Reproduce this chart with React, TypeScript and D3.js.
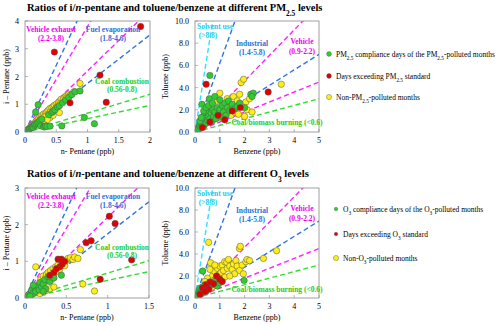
import React from "react";
import * as d3 from "d3";

// ---- data ----
// pentane panels: [n-pentane, i-pentane] (ppb)
const pmPentCompliance = [
  [0.02, 0.03], [0.03, 0.05], [0.04, 0.04], [0.05, 0.08], [0.06, 0.07], [0.07, 0.11], [0.08, 0.13], [0.1, 0.15],
  [0.11, 0.18], [0.12, 0.2], [0.13, 0.17], [0.15, 0.24], [0.16, 0.28], [0.17, 0.72], [0.18, 0.3], [0.2, 0.34],
  [0.21, 0.98], [0.22, 0.37], [0.24, 0.42], [0.25, 0.22], [0.27, 0.46], [0.3, 0.2], [0.31, 0.18], [0.33, 0.22],
  [0.35, 0.2], [0.38, 0.62], [0.4, 0.21], [0.43, 0.7], [0.45, 0.75], [0.48, 0.8], [0.52, 0.9], [0.55, 0.95],
  [0.59, 0.22], [0.6, 1.05], [0.65, 1.15], [0.7, 1.25], [0.75, 1.35], [0.8, 1.45], [0.88, 1.48], [0.95, 0.52], [1.11, 0.3],
];
const pmPentExceed = [[1.85, 3.8], [0.47, 2.88], [1.2, 2.05], [1.3, 1.07], [0.72, 1.05]];
const pmPentNon = [
  [0.04, 0.06], [0.06, 0.1], [0.08, 0.16], [0.1, 0.2], [0.12, 0.24], [0.14, 0.22], [0.15, 0.3], [0.17, 0.36],
  [0.19, 0.4], [0.2, 0.45], [0.22, 0.5], [0.24, 0.55], [0.25, 0.48], [0.27, 0.6], [0.28, 0.52], [0.3, 0.65],
  [0.31, 0.55], [0.33, 0.68], [0.34, 0.6], [0.35, 0.73], [0.37, 0.78], [0.38, 0.66], [0.4, 0.85], [0.41, 0.74],
  [0.43, 0.88], [0.45, 0.92], [0.47, 0.96], [0.48, 0.82], [0.5, 1.0], [0.52, 0.95], [0.54, 1.08], [0.56, 1.12],
  [0.58, 1.18], [0.6, 1.1], [0.62, 1.22], [0.64, 1.26], [0.66, 1.3], [0.68, 1.28], [0.7, 1.36], [0.72, 1.32],
  [0.78, 1.45], [0.88, 1.75], [0.4, 0.52], [0.45, 0.6], [0.55, 0.7], [0.3, 0.4], [0.36, 0.45],
];

// toluene panels: [benzene, toluene] (ppb)
const pmToluCompliance = [
  [0.1, 0.2], [0.12, 0.4], [0.15, 0.3], [0.18, 0.6], [0.2, 0.5], [0.22, 0.8], [0.25, 0.4], [0.28, 2.5], [0.3, 0.9],
  [0.3, 0.6], [0.35, 1.2], [0.38, 0.7], [0.4, 1.0], [0.42, 1.5], [0.45, 0.8], [0.48, 1.3], [0.5, 1.8], [0.52, 1.0],
  [0.55, 1.4], [0.58, 3.0], [0.6, 5.1], [0.6, 1.2], [0.65, 1.7], [0.7, 1.0], [0.72, 2.0], [0.75, 1.4], [0.8, 3.2],
  [0.8, 1.8], [0.85, 1.2], [0.9, 2.2], [0.95, 1.6], [1.0, 2.0], [1.05, 1.4], [1.1, 2.4], [1.15, 1.8], [1.2, 2.6],
  [1.25, 1.5], [1.3, 2.2], [1.35, 2.8], [1.4, 1.9], [1.5, 2.5], [1.6, 2.1], [1.7, 2.3], [1.8, 2.6], [2.0, 2.2],
  [2.25, 3.4], [2.35, 3.5], [2.3, 3.2], [0.2, 1.0], [0.25, 1.3], [0.35, 1.9], [0.45, 2.2], [0.55, 2.4], [0.7, 2.6], [1.0, 2.9],
];
const pmToluExceed = [[0.45, 4.3], [2.95, 3.6], [1.5, 1.9], [0.93, 1.5], [1.83, 2.2], [0.6, 0.9], [0.3, 0.4], [1.2, 1.1]];
const pmToluNon = [
  [0.15, 0.2], [0.25, 0.6], [0.35, 0.5], [0.45, 1.1], [0.55, 0.9], [0.65, 1.3], [0.75, 2.2], [0.85, 1.5], [0.9, 2.8],
  [1.0, 1.3], [1.1, 2.0], [1.2, 1.6], [1.3, 3.0], [1.4, 2.3], [1.45, 1.5], [1.55, 3.2], [1.6, 1.8], [1.7, 2.8],
  [1.75, 1.6], [1.86, 4.45], [1.96, 4.75], [2.0, 1.4], [2.05, 2.7], [2.1, 2.0], [2.2, 3.0], [2.3, 1.8], [3.48, 4.3],
  [1.8, 3.4], [1.0, 3.5], [0.6, 2.0],
];

const o3PentCompliance = [
  [0.01, 0.02], [0.03, 0.04], [0.05, 0.1], [0.07, 0.09], [0.08, 0.2], [0.1, 0.13], [0.12, 0.28], [0.13, 0.18],
  [0.15, 0.32], [0.17, 0.22], [0.18, 0.42], [0.2, 0.3], [0.22, 0.38], [0.24, 0.5], [0.25, 0.25], [0.28, 0.58],
  [0.3, 0.45], [0.32, 0.62], [0.44, 0.62], [0.3, 0.58], [0.22, 0.18], [0.35, 0.55], [0.1, 0.35], [0.06, 0.05],
];
const o3PentExceed = [
  [1.02, 2.23], [1.09, 2.03], [0.74, 1.51], [0.8, 1.56], [1.29, 1.04], [0.91, 0.51], [0.4, 1.06], [0.44, 1.06],
  [0.42, 0.85], [0.45, 0.92], [0.35, 0.7], [0.38, 0.8], [0.3, 0.62], [0.48, 1.0],
];
const o3PentNon = [
  [0.02, 0.03], [0.04, 0.08], [0.05, 0.06], [0.06, 0.12], [0.08, 0.15], [0.09, 0.1], [0.1, 0.2], [0.11, 0.25],
  [0.12, 0.16], [0.13, 0.85], [0.14, 0.3], [0.15, 0.22], [0.16, 0.35], [0.17, 0.28], [0.18, 0.4], [0.19, 0.5],
  [0.2, 0.33], [0.21, 0.45], [0.22, 0.6], [0.23, 0.38], [0.25, 0.55], [0.26, 0.65], [0.27, 0.48], [0.28, 0.7],
  [0.3, 0.6], [0.31, 0.75], [0.32, 0.5], [0.34, 0.8], [0.35, 0.65], [0.37, 0.85], [0.38, 0.72], [0.4, 0.9],
  [0.42, 0.78], [0.44, 0.95], [0.46, 1.0], [0.48, 0.88], [0.5, 1.02], [0.52, 1.08], [0.55, 1.1], [0.58, 1.05],
  [0.6, 1.12], [0.64, 1.08], [0.67, 1.32], [0.7, 0.38], [0.84, 0.19], [0.25, 0.2], [0.3, 0.25], [0.35, 0.3],
  [0.22, 0.15], [0.18, 0.12],
];

const o3ToluCompliance = [
  [0.1, 0.3], [0.15, 0.6], [0.2, 0.9], [0.25, 0.4], [0.31, 2.45], [0.35, 0.8], [0.4, 1.2], [0.45, 0.6], [0.5, 1.1],
  [0.55, 0.9], [0.6, 1.3], [0.7, 1.2], [0.8, 1.5], [0.9, 1.1], [1.0, 1.4], [1.98, 1.6], [0.3, 1.0], [0.25, 0.7],
  [0.18, 0.4], [0.12, 0.15],
];
const o3ToluExceed = [
  [0.3, 0.9], [0.45, 1.2], [0.6, 1.45], [0.75, 1.3], [0.87, 2.0], [1.0, 1.7], [1.1, 1.5], [0.55, 0.8], [0.4, 0.6], [0.2, 0.35],
];
const o3ToluNon = [
  [0.1, 0.2], [0.15, 0.4], [0.2, 0.3], [0.25, 0.7], [0.3, 0.5], [0.35, 1.0], [0.4, 0.8], [0.45, 1.3], [0.5, 1.0],
  [0.55, 5.06], [0.6, 1.5], [0.63, 3.2], [0.65, 1.2], [0.7, 2.0], [0.75, 1.6], [0.8, 2.4], [0.85, 1.8], [0.9, 2.7],
  [0.95, 2.1], [1.0, 2.9], [1.05, 2.3], [1.1, 3.0], [1.15, 2.5], [1.2, 3.3], [1.28, 3.24], [1.3, 2.7], [1.35, 3.5],
  [1.4, 2.9], [1.5, 2.6], [1.55, 3.1], [1.6, 2.2], [1.65, 3.4], [1.7, 2.9], [1.79, 4.5], [1.83, 4.7], [1.8, 2.5],
  [1.9, 3.0], [1.95, 2.2], [2.05, 3.3], [2.1, 3.5], [2.2, 3.4], [2.76, 3.6], [3.29, 4.3], [0.9, 1.4], [1.0, 1.8],
  [1.2, 1.9], [0.7, 1.0], [0.5, 1.8], [0.4, 1.5], [1.4, 2.0], [0.3, 0.9], [0.2, 0.5], [0.6, 2.6], [0.8, 3.0],
];

// source ratio lines (slopes as drawn)
const pentaneLines = [
  { slope: 0.48, color: "#33dd33" }, { slope: 0.68, color: "#33dd33" },
  { slope: 1.75, color: "#2f74e0" }, { slope: 4.8, color: "#2f74e0" },
  { slope: 2.2, color: "#ff22ff" }, { slope: 3.8, color: "#ff22ff" },
];
const tolueneLines = [
  { slope: 0.6, color: "#33dd33" },
  { slope: 0.9, color: "#ff22ff" }, { slope: 2.3, color: "#ff22ff" },
  { slope: 1.4, color: "#2f74e0" }, { slope: 6.2, color: "#2f74e0" },
  { slope: 14, color: "#33ddff" },
];

const SERIF = "Liberation Serif, Times New Roman, Times, DejaVu Serif, serif";
const GREEN = "#2ecc2e";
const RED = "#e00000";
const YELLOW = "#ffee11";

function Panel({ x0, y0, w, h, xMax, yMax, xTicks, yTicks, yFmt, lines, series, labels, xTitle, yTitle, yTitleX, id }) {
  const x = d3.scaleLinear().domain([0, xMax]).range([x0, x0 + w]);
  const y = d3.scaleLinear().domain([0, yMax]).range([y0 + h, y0]);
  return (
    <g style={{ fontFamily: SERIF }}>
      <defs>
        <clipPath id={id}>
          <rect x={x0} y={y0} width={w} height={h} />
        </clipPath>
      </defs>
      <g clipPath={`url(#${id})`}>
        {lines.map((l, i) => {
          const xe = Math.min(xMax, yMax / l.slope) * 1.05;
          return (
            <line key={i} x1={x(0)} y1={y(0)} x2={x(xe)} y2={y(xe * l.slope)}
              stroke={l.color} strokeWidth={1.4} strokeDasharray="5,3" />
          );
        })}
        {series.map((s, si) =>
          s.data.map((d, i) => (
            <circle key={si + "-" + i} cx={x(d[0])} cy={y(d[1])} r={3.2}
              fill={s.color} stroke="#555" strokeWidth={0.5} />
          ))
        )}
      </g>
      <rect x={x0} y={y0} width={w} height={h} fill="none" stroke="#888" strokeWidth={0.8} />
      {xTicks.map((t) => (
        <g key={"x" + t}>
          <line x1={x(t)} x2={x(t)} y1={y0 + h} y2={y0 + h - 3} stroke="#888" strokeWidth={0.6} />
          <text x={x(t)} y={y0 + h + 11} fontSize={8} textAnchor="middle">{t}</text>
        </g>
      ))}
      {yTicks.map((t) => (
        <g key={"y" + t}>
          <line x1={x0} x2={x0 + 3} y1={y(t)} y2={y(t)} stroke="#888" strokeWidth={0.6} />
          <text x={x0 - 6} y={y(t) + 3} fontSize={8} textAnchor="end">{yFmt(t)}</text>
        </g>
      ))}
      <text x={x0 + w / 2} y={y0 + h + 22} fontSize={8} textAnchor="middle">{xTitle}</text>
      <text transform={`translate(${yTitleX},${y0 + h / 2}) rotate(-90)`} fontSize={8} textAnchor="middle">{yTitle}</text>
      {labels.map((lb, i) => (
        <text key={i} x={x0 + lb.dx} y={y0 + lb.dy} fontSize={7.5} fontWeight="bold" fill={lb.color} textAnchor="middle">
          {lb.text}
        </text>
      ))}
    </g>
  );
}

const pentLabels = (dy2) => [
  { text: "Vehicle exhaust", dx: 26, dy: 11, color: "#ee00ee" },
  { text: "(2.2-3.8)", dx: 26, dy: 20, color: "#ee00ee" },
  { text: "Fuel evaporation", dx: 88, dy: 11, color: "#2f6fd8" },
  { text: "(1.8-4.6)", dx: 88, dy: 20, color: "#2f6fd8" },
  { text: "Coal combustion", dx: 97, dy: dy2, color: "#22cc22" },
  { text: "(0.56-0.8)", dx: 97, dy: dy2 + 8, color: "#22cc22" },
];
const toluLabels = [
  { text: "Solvent use", dx: 20, dy: 8, color: "#22ccee" },
  { text: "(>8.8)", dx: 13, dy: 17, color: "#22ccee" },
  { text: "Industrial", dx: 57, dy: 25, color: "#2f6fd8" },
  { text: "(1.4-5.8)", dx: 57, dy: 34, color: "#2f6fd8" },
  { text: "Vehicle", dx: 107, dy: 23, color: "#ee00ee" },
  { text: "(0.9-2.2)", dx: 107, dy: 33, color: "#ee00ee" },
  { text: "Coal/biomass burning  (<0.6)", dx: 82, dy: 104, color: "#22cc22" },
];

function Legend({ x0, ys, r, items }) {
  return (
    <g style={{ fontFamily: SERIF }} fontSize={7.5}>
      {items.map((it, i) => (
        <g key={i}>
          <circle cx={x0} cy={ys[i]} r={r[i]} fill={it.color} stroke="#555" strokeWidth={0.4} />
          <text x={x0 + 7} y={ys[i] + 2.5}>{it.text}</text>
        </g>
      ))}
    </g>
  );
}

const Sub = ({ children }) => (
  <tspan fontSize="70%" baselineShift="sub">{children}</tspan>
);

export default function App() {
  const fmt1 = d3.format(".1f");
  const fmtP = (t) => String(t);
  return (
    <svg width={500} height={326} style={{ position: "absolute", left: 0, top: 0, background: "#fff", fontFamily: SERIF }}>
      <text x={27} y={11} fontSize={10.5} fontWeight="bold">
        Ratios of i/<tspan fontStyle="italic">n</tspan>-pentane and toluene/benzene at different PM<Sub>2.5</Sub> levels
      </text>
      <text x={27} y={177} fontSize={10.5} fontWeight="bold">
        Ratios of i/<tspan fontStyle="italic">n</tspan>-pentane and toluene/benzene at different O<Sub>3</Sub> levels
      </text>

      <Panel id="c1" x0={25} y0={21} w={125} h={111} xMax={2} yMax={4}
        xTicks={[0, 0.5, 1, 1.5, 2]} yTicks={[0, 1, 2, 3, 4]} yFmt={fmtP}
        lines={pentaneLines} labels={pentLabels(63)}
        series={[{ data: pmPentNon, color: YELLOW }, { data: pmPentCompliance, color: GREEN }, { data: pmPentExceed, color: RED }]}
        xTitle="n- Pentane (ppb)" yTitle="i – Pentane (ppb)" yTitleX={9} />

      <Panel id="c2" x0={195} y0={21} w={124} h={111} xMax={5} yMax={10}
        xTicks={[0, 1, 2, 3, 4, 5]} yTicks={[0, 2, 4, 6, 8, 10]} yFmt={fmt1}
        lines={tolueneLines} labels={toluLabels}
        series={[{ data: pmToluNon, color: YELLOW }, { data: pmToluCompliance, color: GREEN }, { data: pmToluExceed, color: RED }]}
        xTitle="Benzene (ppb)" yTitle="Toluene (ppb)" yTitleX={168} />

      <Panel id="c3" x0={25} y0={188} w={124} h={110} xMax={1.5} yMax={3}
        xTicks={[0, 0.5, 1, 1.5]} yTicks={[0, 1, 2, 3]} yFmt={fmtP}
        lines={pentaneLines} labels={pentLabels(62)}
        series={[{ data: o3PentNon, color: YELLOW }, { data: o3PentCompliance, color: GREEN }, { data: o3PentExceed, color: RED }]}
        xTitle="n- Pentane (ppb)" yTitle="i – Pentane (ppb)" yTitleX={9} />

      <Panel id="c4" x0={195} y0={188} w={124} h={110} xMax={5} yMax={10}
        xTicks={[0, 1, 2, 3, 4, 5]} yTicks={[0, 2, 4, 6, 8, 10]} yFmt={fmt1}
        lines={tolueneLines} labels={toluLabels}
        series={[{ data: o3ToluNon, color: YELLOW }, { data: o3ToluCompliance, color: GREEN }, { data: o3ToluExceed, color: RED }]}
        xTitle="Benzene (ppb)" yTitle="Toluene (ppb)" yTitleX={168} />

      <Legend x0={329} ys={[54, 76, 97]} r={[2.4, 2.4, 2.6]} items={[
        { color: GREEN, text: <>PM<Sub>2.5</Sub> compliance days of the PM<Sub>2.5</Sub>-polluted months</> },
        { color: RED, text: <>Days exceeding PM<Sub>2.5</Sub> standard</> },
        { color: YELLOW, text: <>Non-PM<Sub>2.5</Sub>-polluted months</> },
      ]} />
      <Legend x0={336} ys={[209, 234, 258]} r={[1.8, 1.8, 2.6]} items={[
        { color: GREEN, text: <>O<Sub>3</Sub> compliance days of the O<Sub>3</Sub>-polluted months</> },
        { color: RED, text: <>Days exceeding O<Sub>3</Sub> standard</> },
        { color: YELLOW, text: <>Non-O<Sub>3</Sub>-polluted months</> },
      ]} />
    </svg>
  );
}
